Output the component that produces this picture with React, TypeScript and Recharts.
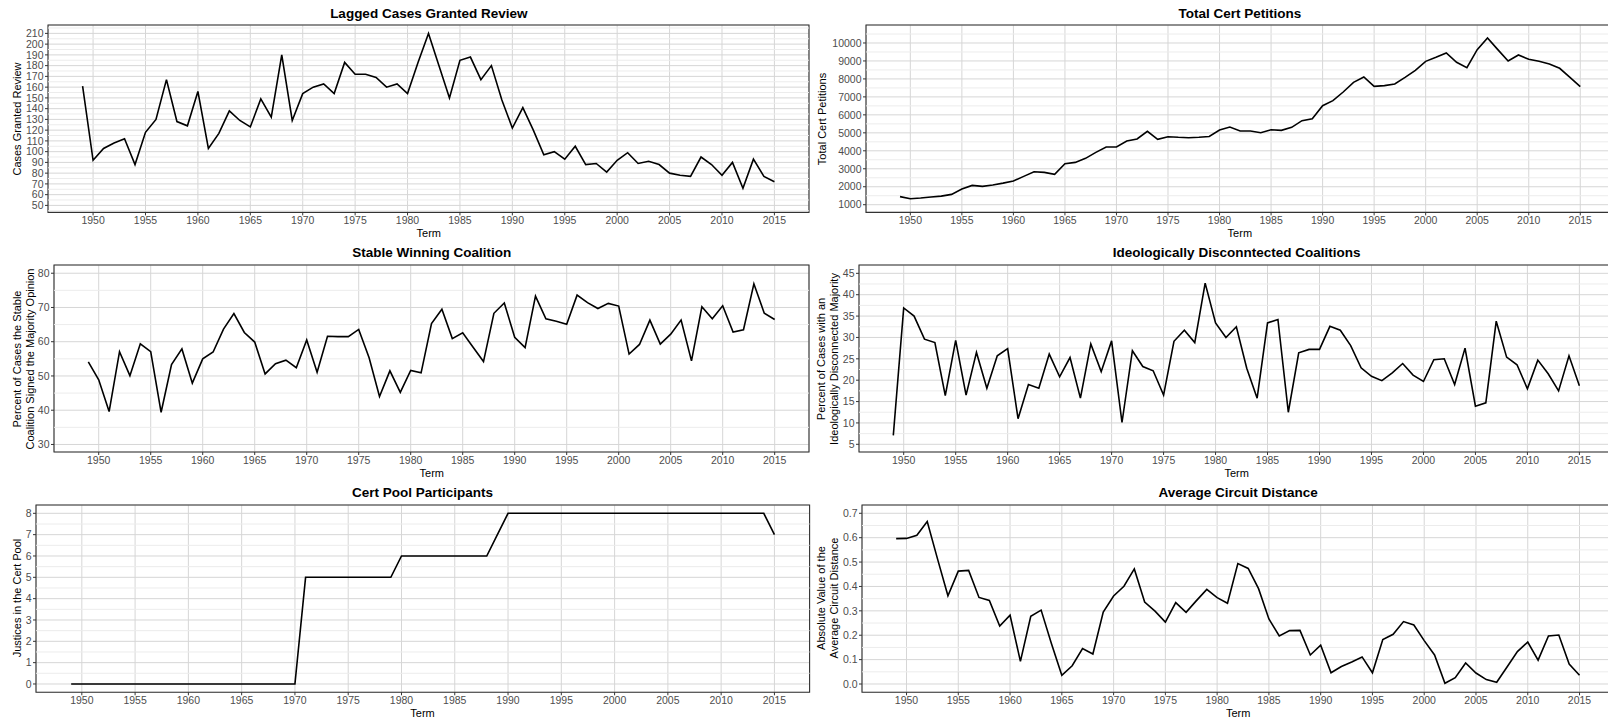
import React from "react";
import {
  LineChart,
  Line,
  XAxis,
  YAxis,
  CartesianGrid,
  ReferenceLine,
  ReferenceArea,
} from "recharts";

// terms on the x axis
const YEARS = [
  1949, 1950, 1951, 1952, 1953, 1954, 1955, 1956, 1957, 1958, 1959,
  1960, 1961, 1962, 1963, 1964, 1965, 1966, 1967, 1968, 1969,
  1970, 1971, 1972, 1973, 1974, 1975, 1976, 1977, 1978, 1979,
  1980, 1981, 1982, 1983, 1984, 1985, 1986, 1987, 1988, 1989,
  1990, 1991, 1992, 1993, 1994, 1995, 1996, 1997, 1998, 1999,
  2000, 2001, 2002, 2003, 2004, 2005, 2006, 2007, 2008, 2009,
  2010, 2011, 2012, 2013, 2014, 2015,
];
const X_TICKS = [1950, 1955, 1960, 1965, 1970, 1975, 1980, 1985, 1990, 1995, 2000, 2005, 2010, 2015];
const X_DOMAIN = [1945.7, 2018.3];

const CASES_GRANTED = [
  161, 92, 103, 108, 112, 88, 118, 130, 167, 128, 124,
  156, 103, 117, 138, 129, 123, 149, 132, 190, 129,
  154, 160, 163, 154, 183, 172, 172, 169, 160, 163,
  154, 183, 210, 180, 150, 185, 188, 167, 180, 148,
  122, 141, 120, 97, 100, 93, 105, 88, 89, 81,
  92, 99, 89, 91, 88, 80, 78, 77, 95, 88,
  78, 90, 66, 93, 77, 72,
];
const CERT_PETITIONS = [
  1450, 1330, 1370, 1430, 1480, 1575, 1870, 2076, 2020, 2095, 2200,
  2320, 2577, 2837, 2800, 2690, 3282, 3356, 3580, 3913, 4210,
  4210, 4544, 4656, 5082, 4637, 4785, 4750, 4730, 4750, 4800,
  5156, 5324, 5100, 5100, 5008, 5175, 5138, 5305, 5676, 5788,
  6511, 6790, 7272, 7810, 8107, 7588, 7625, 7717, 8088, 8478,
  8979, 9202, 9443, 8924, 8627, 9629, 10278, 9629, 8998, 9332,
  9091, 8979, 8831, 8590, 8089, 7569,
];
const STABLE_COALITION = [
  54.1, 48.9, 39.6, 57.1, 50.1, 59.4, 57.1, 39.4, 53.3, 57.9, 47.9,
  55.0, 57.0, 63.7, 68.2, 62.7, 59.9, 50.6, 53.6, 54.6, 52.4,
  60.5, 51.1, 61.6, 61.5, 61.5, 63.6, 55.3, 44.0, 51.5, 45.2,
  51.6, 50.9, 65.3, 69.5, 60.9, 62.6, 58.4, 54.2, 68.3, 71.3,
  61.3, 58.3, 73.3, 66.7, 66.0, 65.1, 73.6, 71.4, 69.7, 71.2,
  70.4, 56.4, 59.2, 66.3, 59.3, 62.2, 66.3, 54.4, 70.2, 66.7,
  70.5, 62.8, 63.5, 76.9, 68.3, 66.5,
];
const DISCONNECTED = [
  7.1, 36.9, 35.0, 29.6, 28.8, 16.4, 29.3, 16.5, 26.5, 18.1, 25.7,
  27.4, 11.0, 19.0, 18.1, 26.1, 20.8, 25.3, 15.8, 28.5, 22.0,
  29.2, 10.1, 26.9, 23.2, 22.2, 16.5, 29.1, 31.7, 28.8, 42.7,
  33.4, 30.0, 32.5, 22.8, 15.8, 33.4, 34.2, 12.5, 26.4, 27.2,
  27.2, 32.6, 31.7, 28.1, 22.9, 20.9, 19.9, 21.7, 23.9, 21.2,
  19.7, 24.8, 25.0, 19.0, 27.5, 13.9, 14.7, 33.8, 25.4, 23.6,
  18.0, 24.7, 21.5, 17.5, 25.7, 18.7,
];
const CERT_POOL = [
  0, 0, 0, 0, 0, 0, 0, 0, 0, 0, 0,
  0, 0, 0, 0, 0, 0, 0, 0, 0, 0,
  0, 5, 5, 5, 5, 5, 5, 5, 5, 5,
  6, 6, 6, 6, 6, 6, 6, 6, 6, 7,
  8, 8, 8, 8, 8, 8, 8, 8, 8, 8,
  8, 8, 8, 8, 8, 8, 8, 8, 8, 8,
  8, 8, 8, 8, 8, 7,
];
const CIRCUIT_DISTANCE = [
  0.596, 0.597, 0.61, 0.666, 0.512, 0.362, 0.463, 0.466, 0.355, 0.343, 0.238,
  0.282, 0.093, 0.278, 0.303, 0.165, 0.036, 0.075, 0.145, 0.123, 0.295,
  0.361, 0.401, 0.472, 0.336, 0.299, 0.254, 0.334, 0.294, 0.342, 0.388,
  0.354, 0.331, 0.494, 0.474, 0.391, 0.267, 0.197, 0.219, 0.22, 0.119,
  0.159, 0.046, 0.072, 0.09, 0.111, 0.046, 0.182, 0.204, 0.256, 0.242,
  0.178, 0.119, 0.003, 0.026, 0.086, 0.045, 0.018, 0.007, 0.07, 0.133,
  0.172, 0.098, 0.197, 0.201, 0.082, 0.036,
];

// y ticks (major) and in-between grid lines (minor)
const CASES_TICKS = [50, 60, 70, 80, 90, 100, 110, 120, 130, 140, 150, 160, 170, 180, 190, 200, 210];
const CASES_MINOR = [45, 55, 65, 75, 85, 95, 105, 115, 125, 135, 145, 155, 165, 175, 185, 195, 205, 215];
const PETITION_TICKS = [1000, 2000, 3000, 4000, 5000, 6000, 7000, 8000, 9000, 10000];
const PETITION_MINOR = [1500, 2500, 3500, 4500, 5500, 6500, 7500, 8500, 9500, 10500];
const STABLE_TICKS = [30, 40, 50, 60, 70, 80];
const STABLE_MINOR = [35, 45, 55, 65, 75];
const DISC_TICKS = [5, 10, 15, 20, 25, 30, 35, 40, 45];
const DISC_MINOR = [7.5, 12.5, 17.5, 22.5, 27.5, 32.5, 37.5, 42.5];
const POOL_TICKS = [0, 1, 2, 3, 4, 5, 6, 7, 8];
const POOL_MINOR = [0.5, 1.5, 2.5, 3.5, 4.5, 5.5, 6.5, 7.5];
const CIRCUIT_TICKS = [0, 0.1, 0.2, 0.3, 0.4, 0.5, 0.6, 0.7];
const CIRCUIT_MINOR = [0.05, 0.15, 0.25, 0.35, 0.45, 0.55, 0.65];

const ROWS = [
  { top: 25.3, bottom: 212.7, titleY: 14 },
  { top: 265.3, bottom: 452.3, titleY: 253.3 },
  { top: 504.7, bottom: 692, titleY: 493.3 },
];

const PANELS = [
  {
    title: "Lagged Cases Granted Review",
    ylab: ["Cases Granted Review"],
    values: CASES_GRANTED, ticks: CASES_TICKS, minor: CASES_MINOR,
    domain: [43.5, 217.8], row: 0, left: 48.3, right: 809.3, ylabX: 17.3,
  },
  {
    title: "Total Cert Petitions",
    ylab: ["Total Cert Petitions"],
    values: CERT_PETITIONS, ticks: PETITION_TICKS, minor: PETITION_MINOR,
    domain: [573, 11000], row: 0, left: 865.7, right: 1614, ylabX: 822,
  },
  {
    title: "Stable Winning Coalition",
    ylab: ["Percent of Cases the Stable", "Coalition Signed the Majority Opinion"],
    values: STABLE_COALITION, ticks: STABLE_TICKS, minor: STABLE_MINOR,
    domain: [27.8, 82.4], row: 1, left: 54.3, right: 809.3, ylabX: 23.7,
  },
  {
    title: "Ideologically Disconntected Coalitions",
    ylab: ["Percent of Cases with an", "Ideologically Disconnected Majority"],
    values: DISCONNECTED, ticks: DISC_TICKS, minor: DISC_MINOR,
    domain: [3.2, 46.95], row: 1, left: 859.3, right: 1614, ylabX: 828,
  },
  {
    title: "Cert Pool Participants",
    ylab: ["Justices in the Cert Pool"],
    values: CERT_POOL, ticks: POOL_TICKS, minor: POOL_MINOR,
    domain: [-0.39, 8.39], row: 2, left: 35.7, right: 809.3, ylabX: 17.3,
  },
  {
    title: "Average Circuit Distance",
    ylab: ["Absolute Value of the", "Average Circuit Distance"],
    values: CIRCUIT_DISTANCE, ticks: CIRCUIT_TICKS, minor: CIRCUIT_MINOR,
    domain: [-0.034, 0.734], row: 2, left: 862.3, right: 1614, ylabX: 828,
    fmt: (v: number) => v.toFixed(1),
  },
];

const YW = 44;
const MT = 10;
const MR = 10;
const XH = 24;
const tickStyle = { fontSize: 10.5, fill: "#4d4d4d" };

function Panel({ p }: { p: any }) {
  const row = ROWS[p.row];
  const plotW = p.right - p.left;
  const plotH = row.bottom - row.top;
  const data = YEARS.map((year, i) => ({ year, v: p.values[i] }));
  const cx = p.left + plotW / 2;

  return (
    <>
      <div style={{ position: "absolute", left: p.left - YW, top: row.top - MT }}>
        <LineChart
          width={YW + plotW + MR}
          height={MT + plotH + XH}
          data={data}
          margin={{ top: MT, right: MR, left: 0, bottom: 0 }}
        >
          <CartesianGrid stroke="#d6d6d6" strokeWidth={1} />
          {p.minor.map((m: number) => (
            <ReferenceLine key={m} y={m} stroke="#ececec" strokeWidth={1} />
          ))}
          <XAxis
            dataKey="year"
            type="number"
            domain={X_DOMAIN}
            ticks={X_TICKS}
            interval={0}
            allowDataOverflow
            height={XH}
            axisLine={false}
            tickLine={{ stroke: "#333" }}
            tickSize={3}
            tickMargin={1.5}
            tick={tickStyle}
          />
          <YAxis
            type="number"
            domain={p.domain}
            ticks={p.ticks}
            interval={0}
            allowDataOverflow
            width={YW}
            axisLine={false}
            tickLine={{ stroke: "#333" }}
            tickSize={3}
            tickMargin={1.5}
            tick={tickStyle}
            tickFormatter={p.fmt}
          />
          <ReferenceArea
            x1={X_DOMAIN[0]}
            x2={X_DOMAIN[1]}
            y1={p.domain[0]}
            y2={p.domain[1]}
            fill="none"
            fillOpacity={0}
            stroke="#333"
            strokeWidth={1.1}
            ifOverflow="visible"
          />
          <Line
            type="linear"
            dataKey="v"
            stroke="#000"
            strokeWidth={1.6}
            dot={false}
            activeDot={false}
            isAnimationActive={false}
          />
        </LineChart>
      </div>
      <div
        style={{
          position: "absolute", left: p.left, width: plotW, top: row.titleY - 8,
          height: 16, lineHeight: "16px", textAlign: "center",
          fontWeight: "bold", fontSize: 13.5, color: "#000", whiteSpace: "nowrap",
        }}
      >
        {p.title}
      </div>
      <div
        style={{
          position: "absolute", left: cx - 40, width: 80, top: row.bottom + 20.6 - 7,
          height: 14, lineHeight: "14px", textAlign: "center", fontSize: 11, color: "#000",
        }}
      >
        Term
      </div>
      <div
        style={{
          position: "absolute", left: p.ylabX, top: row.top + plotH / 2,
          transform: "translate(-50%, -50%) rotate(-90deg)",
          textAlign: "center", whiteSpace: "nowrap", fontSize: 11,
          lineHeight: "12.7px", color: "#000",
        }}
      >
        {p.ylab.map((l: string) => (
          <div key={l}>{l}</div>
        ))}
      </div>
    </>
  );
}

export default function App() {
  return (
    <div
      style={{
        position: "fixed", left: 0, top: 0, width: 1608, height: 721,
        overflow: "hidden", background: "#fff",
        fontFamily: '"Liberation Sans", Arial, Helvetica, sans-serif',
      }}
    >
      {PANELS.map((p) => (
        <Panel key={p.title} p={p} />
      ))}
    </div>
  );
}
